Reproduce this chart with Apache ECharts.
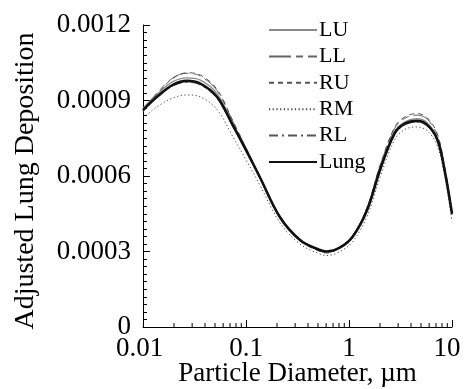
<!DOCTYPE html>
<html><head><meta charset="utf-8">
<script src="https://cdn.jsdelivr.net/npm/echarts@6/dist/echarts.min.js"></script>
<style>html,body{margin:0;padding:0;background:#fff}#c{width:464px;height:389px}</style>
</head><body><div id="c"></div>
<script>
const diam = [0.01, 0.0137, 0.0195, 0.0267, 0.0357, 0.0522, 0.0748, 0.1, 0.136, 0.213, 0.334, 0.52, 0.61, 0.82, 1.09, 1.5, 2.0, 2.78, 3.49, 4.57, 5.74, 7.2, 8.5, 10];
const LU = [0.000870,0.000925,0.000975,0.000990,0.000982,0.000928,0.000808,0.000708,0.000598,0.000440,0.000348,0.000305,0.000298,0.000318,0.000362,0.000470,0.000630,0.000778,0.000815,0.000828,0.000812,0.000750,0.000625,0.000448];
const LL = [0.000860,0.000930,0.000990,0.001008,0.000998,0.000940,0.000815,0.000712,0.000600,0.000438,0.000345,0.000303,0.000297,0.000318,0.000364,0.000475,0.000640,0.000790,0.000830,0.000842,0.000826,0.000762,0.000632,0.000455];
const RU = [0.000855,0.000925,0.000988,0.001010,0.001002,0.000945,0.000818,0.000712,0.000598,0.000435,0.000342,0.000300,0.000294,0.000316,0.000362,0.000476,0.000642,0.000795,0.000835,0.000848,0.000832,0.000768,0.000636,0.000458];
const RM = [0.000830,0.000875,0.000910,0.000922,0.000915,0.000865,0.000755,0.000665,0.000565,0.000415,0.000330,0.000290,0.000284,0.000300,0.000340,0.000440,0.000595,0.000745,0.000785,0.000795,0.000780,0.000720,0.000600,0.000420];
const RL = [0.000865,0.000912,0.000958,0.000972,0.000962,0.000908,0.000795,0.000700,0.000593,0.000436,0.000346,0.000306,0.000300,0.000318,0.000360,0.000462,0.000618,0.000765,0.000803,0.000814,0.000798,0.000740,0.000615,0.000445];
const Lung = [0.000862,0.000915,0.000962,0.000978,0.000968,0.000915,0.000800,0.000703,0.000596,0.000437,0.000346,0.000306,0.000300,0.000316,0.000360,0.000465,0.000624,0.000770,0.000808,0.000819,0.000803,0.000745,0.000620,0.000450];
const xMinorTicks = [0.02,0.03,0.04,0.05,0.06,0.07,0.08,0.09,0.2,0.3,0.4,0.5,0.6,0.7,0.8,0.9,2,3,4,5,6,7,8,9];
const yTicks = [0, 0.0003, 0.0006, 0.0009, 0.0012];

const FONT = 'Liberation Serif';
const pair = arr => diam.map((d,i)=>[d, arr[i]]);
function mk(name, arr, color, width, type, z){
  return {name, type:'line', data:pair(arr), smooth:0.35, symbol:'none', z:z||2,
    lineStyle:{color, width, type}, itemStyle:{color}};
}
const chart = echarts.init(document.getElementById('c'));
chart.setOption({
  animation:false,
  backgroundColor:'#fff',
  grid:{left:143, right:12, top:25, bottom:62, containLabel:false, outerBoundsMode:'none'},
  legend:{
    data:['LU','LL','RU','RM','RL','Lung'], orient:'vertical', left:263, top:14,
    itemWidth:48, itemHeight:14, itemGap:4.4,
    itemStyle:{opacity:0, borderWidth:0},
    textStyle:{fontFamily:FONT, fontSize:22, color:'#000', lineHeight:22, padding:[0,0,0,-3]}
  },
  xAxis:{
    type:'log', logBase:10, min:0.01, max:10,
    axisLine:{lineStyle:{color:'#000', width:1}},
    axisTick:{inside:true, length:7, lineStyle:{color:'#000'}},
    axisLabel:{fontFamily:FONT, fontSize:27, color:'#000', margin:8,
      formatter:v=>{
        const s = String(+v.toPrecision(3));
        if (v <= 0.0100001) return '{l|' + s + '}';
        if (v >= 9.9999) return '{r|' + s + '}';
        return s;
      },
      rich:{
        l:{fontFamily:FONT, fontSize:27, color:'#000', padding:[0,7,0,0]},
        r:{fontFamily:FONT, fontSize:27, color:'#000', padding:[0,10,0,0]}
      }},
    splitLine:{show:false},
    name:'Particle Diameter, \u00b5m', nameLocation:'middle', nameGap:33, nameMoveOverlap:false,
    nameTextStyle:{fontFamily:FONT, fontSize:27, color:'#000'}
  },
  yAxis:{
    type:'value', min:yTicks[0], max:yTicks[yTicks.length-1], interval:yTicks[1]-yTicks[0],
    axisLine:{show:true, lineStyle:{color:'#000', width:1}},
    axisTick:{show:true, inside:true, length:7, lineStyle:{color:'#000'}},
    minorTick:{show:true, splitNumber:10, length:4, lineStyle:{color:'#000'}},
    axisLabel:{fontFamily:FONT, fontSize:27, color:'#000', margin:12,
      formatter:v=> v===0 ? '0' : v.toFixed(4)},
    splitLine:{show:false},
    name:'Adjusted Lung Deposition', nameLocation:'middle', nameGap:103, nameRotate:90, nameMoveOverlap:false,
    nameTextStyle:{fontFamily:FONT, fontSize:28, color:'#000', padding:[0,10,0,0]}
  },
  series:[
    mk('LU', LU, '#8a8a8a', 1.2, 'solid'),
    mk('LL', LL, '#666', 1, [22,5,7,5]),
    mk('RU', RU, '#555', 1, [5,4]),
    mk('RM', RM, '#444', 1, [1.2,2.5]),
    mk('RL', RL, '#555', 1, [9,4,2,4]),
    mk('Lung', Lung, '#111', 2.6, 'solid', 5),
    {type:'custom', data:xMinorTicks.map(v=>[v,0]), silent:true, z:6,
      renderItem:(params, api)=>{
        const p = api.coord([api.value(0), 0]);
        return {type:'line', shape:{x1:p[0], y1:p[1], x2:p[0], y2:p[1]-4},
          style:{stroke:'#000', lineWidth:1}};
      }}
  ]
});
</script></body></html>
